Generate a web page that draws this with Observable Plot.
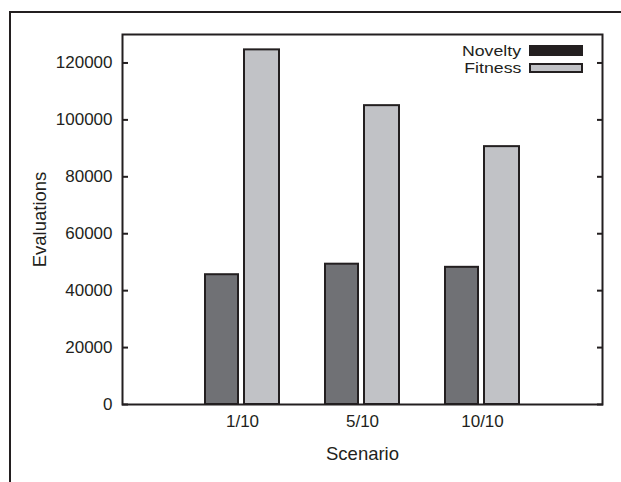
<!DOCTYPE html>
<html>
<head>
<meta charset="utf-8">
<script src="https://cdn.jsdelivr.net/npm/d3@7"></script>
<script src="https://cdn.jsdelivr.net/npm/@observablehq/plot@0.6"></script>
<style>
  body { margin: 0; background: #fff; }
  #wrap { position: relative; width: 621px; height: 482px; overflow: hidden;
          font-family: "Liberation Sans", Arial, sans-serif; color: #231f20; }
  #border { position: absolute; left: 9px; top: 11px; width: 700px; height: 600px;
            border-top: 2px solid #231f20; border-left: 2px solid #231f20; }
  #chart { position: absolute; left: 0; top: 0; }
  #legend { position: absolute; left: 380px; top: 42px; width: 203px; }
  .row { display: flex; justify-content: flex-end; align-items: center; height: 17.3px; }
  .lab { font-size: 15px; margin-right: 8px; line-height: 15px; display: inline-block;
         transform: scaleX(1.18); transform-origin: right center; }
  .sw { width: 50px; height: 6.5px; border: 2px solid #231f20; }
</style>
</head>
<body>
<div id="wrap">
  <div id="border"></div>
  <div id="chart"></div>
  <div id="legend"></div>
</div>
<script>
const scenarios = ["1/10", "5/10", "10/10"];
const novelty = [45600, 49300, 48200];
const fitness = [124600, 105000, 90600];
const yTicks = [0, 20000, 40000, 60000, 80000, 100000, 120000];
const seriesNames = ["Novelty", "Fitness"];
const barFill = ["#707175", "#c1c2c6"];
const legendFill = ["#231f20", "#c1c2c6"];
const ink = "#231f20";

const novRows = scenarios.map((s, i) => ({scenario: s, value: novelty[i]}));
const fitRows = scenarios.map((s, i) => ({scenario: s, value: fitness[i]}));

const chart = Plot.plot({
  width: 621,
  height: 482,
  marginLeft: 122,
  marginRight: 19,
  marginTop: 34,
  marginBottom: 78,
  style: {fontFamily: '"Liberation Sans", Arial, sans-serif', fontSize: "17px", color: ink, background: "transparent"},
  x: {domain: scenarios, paddingInner: 0.366, paddingOuter: 0.683, label: null},
  y: {domain: [0, 130000], label: null},
  marks: [
    Plot.barY(novRows, {x: "scenario", y: "value", fill: barFill[0], stroke: ink, strokeWidth: 2, insetLeft: 1, insetRight: 42}),
    Plot.barY(fitRows, {x: "scenario", y: "value", fill: barFill[1], stroke: ink, strokeWidth: 2, insetLeft: 40, insetRight: 1}),
    Plot.axisY({ticks: yTicks, anchor: "left", tickSize: 0, tickPadding: 10, label: null, tickFormat: d => String(d)}),
    Plot.axisY({ticks: yTicks, anchor: "left", tickSize: -6, tickFormat: () => "", label: null, strokeWidth: 2}),
    Plot.axisY({ticks: yTicks, anchor: "right", tickSize: -6, tickFormat: () => "", label: null, strokeWidth: 2}),
    Plot.axisX({tickSize: 0, tickPadding: 10, label: null}),
    Plot.frame({stroke: ink, strokeWidth: 2}),
    Plot.text(["Evaluations"], {text: d => d, frameAnchor: "left", textAnchor: "middle", rotate: -90, dx: -82, fill: ink, fontSize: 18.5}),
    Plot.text(["Scenario"], {text: d => d, frameAnchor: "bottom", textAnchor: "middle", dy: 55, fill: ink, fontSize: 18.5})
  ]
});
document.getElementById("chart").append(chart);

const legend = document.getElementById("legend");
seriesNames.forEach((name, i) => {
  const row = document.createElement("div");
  row.className = "row";
  const lab = document.createElement("span");
  lab.className = "lab";
  lab.textContent = name;
  const sw = document.createElement("span");
  sw.className = "sw";
  sw.style.background = legendFill[i];
  row.append(lab, sw);
  legend.append(row);
});
</script>
</body>
</html>
